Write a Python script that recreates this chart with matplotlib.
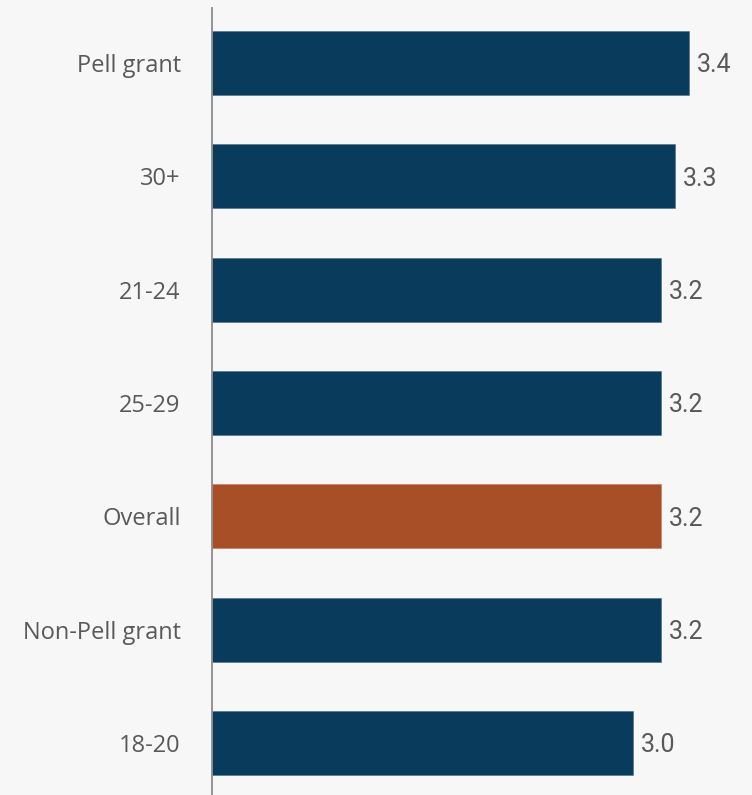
import matplotlib.pyplot as plt

categories = ['Pell grant', '30+', '21-24', '25-29', 'Overall', 'Non-Pell grant', '18-20']
values = [3.4, 3.3, 3.2, 3.2, 3.2, 3.2, 3.0]
highlight = 'Overall'

bg = '#f7f7f7'
navy = '#083b5c'
rust = '#a94f27'
grey_txt = '#595959'

fig = plt.figure(figsize=(7.52, 7.95), dpi=100, facecolor=bg)
ax = fig.add_axes([0.2819, 0.0, 0.7181, 0.98994], facecolor=bg)

pos = list(range(len(categories)))
colors = [rust if c == highlight else navy for c in categories]
edges = ['#c47a58' if c == highlight else '#4a6f8a' for c in categories]
ax.barh(pos, values, height=0.565, color=colors, edgecolor=edges, linewidth=0.4)

for y, v in zip(pos, values):
    ax.text(v + 0.055, y + 0.02, f'{v:.1f}', va='center', ha='left',
            fontsize=18, color=grey_txt, family='Roboto')

ax.set_xlim(0, 3.849)
ax.set_ylim(6.46, -0.485)
ax.set_yticks(pos)
ax.set_yticklabels(categories, fontsize=17, color=grey_txt, family='Open Sans')
ax.tick_params(axis='y', length=0, pad=22.5)
ax.set_xticks([])

for s in ['top', 'right', 'bottom']:
    ax.spines[s].set_visible(False)
ax.spines['left'].set_color('#8c8c8c')
ax.spines['left'].set_linewidth(1.3)

fig.savefig('out.png', dpi=100, facecolor=bg)
